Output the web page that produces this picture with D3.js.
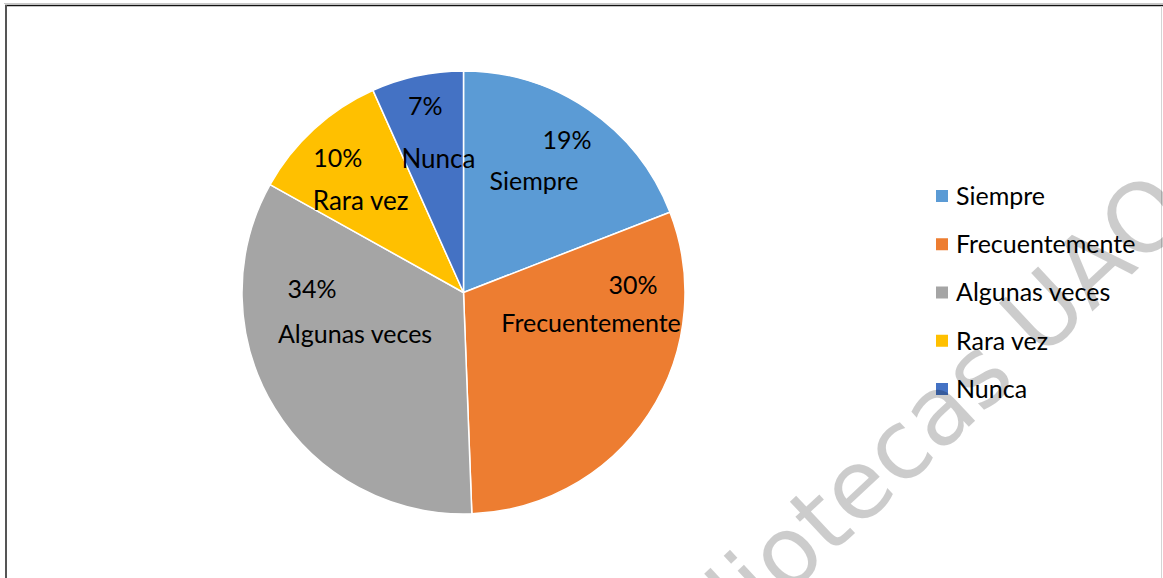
<!DOCTYPE html>
<html>
<head>
<meta charset="utf-8">
<script src="https://cdn.jsdelivr.net/npm/d3@7"></script>
<style>
  body { margin: 0; background: #fff; }
  svg { display: block; }
  text { font-family: Lato, "Liberation Sans", sans-serif; fill: #000; }
</style>
</head>
<body>
<div id="chart"></div>
<script>
// chart data
const categories = ["Siempre", "Frecuentemente", "Algunas veces", "Rara vez", "Nunca"];
const shares = [19.1, 30.3, 33.7, 10.2, 6.7];
const colors = ["#5B9BD5", "#ED7D31", "#A5A5A5", "#FFC000", "#4472C4"];

// label placement, offsets from each slice centroid (percent line, name line)
const labelLayout = [
  {pdx: 41, pdy: -52, ndx: 8, ndy: -11, nscale: 1},
  {pdx: 77, pdy: -59, ndx: 35, ndy: -21, nscale: 1},
  {pdx: -57, pdy: -52, ndx: -14, ndy: -7, nscale: 1},
  {pdx: -51, pdy: -44, ndx: -28, ndy: -1, nscale: 1.04},
  {pdx: -15, pdy: -69, ndx: -2, ndy: -16, nscale: 1.04}
];

const width = 1163, height = 578;
const cx = 463.5, cy = 292.5, radius = 221.5;
const fontSize = 25;

const svg = d3.select("#chart").append("svg")
  .attr("width", width)
  .attr("height", height);

svg.append("rect").attr("width", width).attr("height", height).attr("fill", "#fff");

// page frame
svg.append("line").attr("x1", 4).attr("x2", width).attr("y1", 3.5).attr("y2", 3.5)
  .attr("stroke", "#c8c8c8").attr("stroke-width", 1);
svg.append("line").attr("x1", 5).attr("x2", width).attr("y1", 5.5).attr("y2", 5.5)
  .attr("stroke", "#111").attr("stroke-width", 1.6);
svg.append("line").attr("x1", 6).attr("x2", 6).attr("y1", 5).attr("y2", height)
  .attr("stroke", "#555").attr("stroke-width", 2);
svg.append("line").attr("x1", 1161.5).attr("x2", 1161.5).attr("y1", 6).attr("y2", height)
  .attr("stroke", "#d4d4d4").attr("stroke-width", 1);

const data = categories.map((c, i) => ({name: c, value: shares[i], color: colors[i], lay: labelLayout[i]}));
const total = d3.sum(shares);
const pct = d3.format(".0%");

const pie = d3.pie().sort(null).value(d => d.value);
const arc = d3.arc().innerRadius(0).outerRadius(radius);
const arcs = pie(data);

const g = svg.append("g").attr("transform", `translate(${cx},${cy})`);

g.selectAll("path.slice")
  .data(arcs)
  .join("path")
  .attr("class", "slice")
  .attr("d", arc)
  .attr("fill", d => d.data.color)
  .attr("stroke", "#fff")
  .attr("stroke-width", 1.5)
  .attr("stroke-linejoin", "round");

// data labels: percent on top, category below
arcs.forEach(a => {
  const [x, y] = arc.centroid(a);
  const L = a.data.lay;
  g.append("text")
    .attr("x", x + L.pdx)
    .attr("y", y + L.pdy)
    .attr("text-anchor", "middle")
    .style("font-size", fontSize + "px")
    .text(pct(a.data.value / total));
  g.append("text")
    .attr("x", x + L.ndx)
    .attr("y", y + L.ndy)
    .attr("text-anchor", "middle")
    .style("font-size", (fontSize * L.nscale) + "px")
    .text(a.data.name);
});

// legend
const legendY = d3.scalePoint().domain(categories).range([196, 389]);
const legend = svg.append("g");
const items = legend.selectAll("g")
  .data(data)
  .join("g")
  .attr("transform", d => `translate(936,${legendY(d.name)})`);
items.append("rect")
  .attr("x", 0).attr("y", -6)
  .attr("width", 12).attr("height", 12)
  .attr("fill", d => d.color);
items.append("text")
  .attr("x", 20)
  .attr("dy", "0.35em")
  .style("font-size", fontSize + "px")
  .text(d => d.name);

// watermark
svg.append("text")
  .attr("transform", "translate(635,738) rotate(-43)")
  .style("font-family", "'DejaVu Sans', sans-serif")
  .style("font-size", "96px")
  .style("fill", "#000")
  .style("fill-opacity", 0.2)
  .text("Bibliotecas UAQ");
</script>
</body>
</html>
